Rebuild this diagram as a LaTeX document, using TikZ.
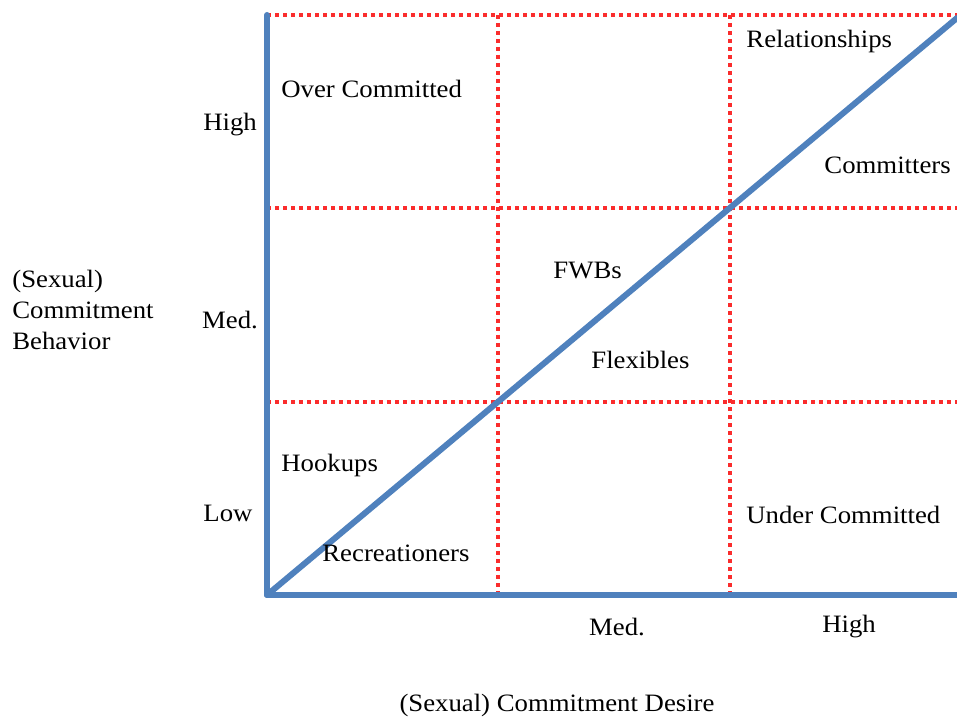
\documentclass[tikz,border=0pt]{standalone}
\usepackage{fontspec}
\setmainfont[FakeStretch=1.07]{Liberation Serif}
\usepackage{tikz}
\usetikzlibrary{positioning}
\definecolor{AxisBlue}{RGB}{79,129,189}
\definecolor{GridRed}{RGB}{250,45,45}
\tikzstyle{axis}=[draw=AxisBlue,line width=3pt,line cap=round,line join=round]
\tikzstyle{grid}=[draw=GridRed,line width=2pt,dash pattern=on 2pt off 2pt]
\tikzstyle{lbl}=[font=\fontsize{12.5}{15.5}\selectfont,inner sep=0pt,anchor=west]
\tikzstyle{tick}=[font=\fontsize{12.5}{15.5}\selectfont,inner sep=0pt]

\begin{document}
\begin{tikzpicture}[x=0.5pt,y=-0.5pt]
  \useasboundingbox (0,0) rectangle (957,721);
  % corners of the grid
  \coordinate (o)  at (267,595);
  \coordinate (tl) at (267,15);
  \coordinate (br) at (957,595);
  \coordinate (tr) at (957,18);

  % dotted grid
  \draw[grid] (267,15) -- (957,15);
  \draw[grid] (267,208) -- (957,208);
  \draw[grid] (267,402) -- (957,402);
  \draw[grid] (498,15) -- (498,595);
  \draw[grid] (730,15) -- (730,595);

  % axes and the diagonal
  \draw[axis] (tl) -- (o) -- (br);
  \draw[axis] (o) -- (tr);

  % axis ticks
  \node[tick] (yhigh) at (230,125) {High};
  \node[tick] (ymed)  at (230,320) {Med.};
  \node[tick] (ylow)  at (228,513) {Low};
  \node[tick] (xmed)  at (617,627) {Med.};
  \node[tick] (xhigh) at (849,627) {High};

  % axis titles
  \node[lbl,align=left] (ytitle) at (12,310) {(Sexual)\\Commitment\\Behavior};
  \node[tick] (xtitle) at (557,705) {(Sexual) Commitment Desire};

  % cells
  \node[lbl] (over)  at (281,89)  {Over Committed};
  \node[lbl] (rel)   at (746,41)  {Relationships};
  \node[lbl] (comm)  at (824,165) {Committers};
  \node[lbl] (fwb)   at (553,271) {FWBs};
  \node[lbl] (flex)  at (591,360) {Flexibles};
  \node[lbl] (hook)  at (281,465) {Hookups};
  \node[lbl] (recr)  at (322,553) {Recreationers};
  \node[lbl] (under) at (746,515) {Under Committed};
\end{tikzpicture}
\end{document}
